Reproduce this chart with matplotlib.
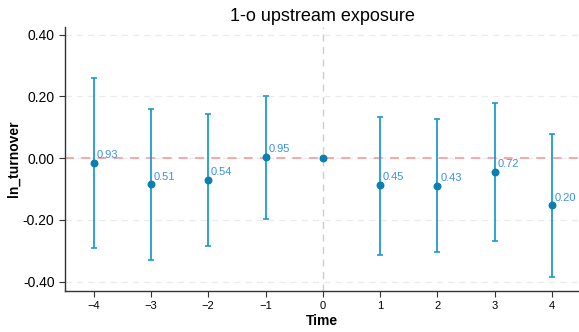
import matplotlib
matplotlib.use("Agg")
import matplotlib.pyplot as plt

plt.rcParams['font.family'] = ['Liberation Sans', 'DejaVu Sans']

# event-study coefficients with 95% CI and p-values
periods = [-4, -3, -2, -1, 0, 1, 2, 3, 4]
coef = [-0.015, -0.085, -0.069, 0.004, 0.0, -0.087, -0.090, -0.044, -0.153]
ci_low = [-0.291, -0.330, -0.283, -0.196, 0.0, -0.312, -0.305, -0.267, -0.384]
ci_high = [0.261, 0.160, 0.144, 0.203, 0.0, 0.135, 0.126, 0.180, 0.080]
pvals = ["0.93", "0.51", "0.54", "0.95", "", "0.45", "0.43", "0.72", "0.20"]
yticks = [-0.4, -0.2, 0.0, 0.2, 0.4]

fig = plt.figure(figsize=(5.79, 3.32), dpi=100)
ax = fig.add_axes([0.1123, 0.1235, 0.8877, 0.7952])

for y in yticks:
    ax.axhline(y, color="#ebebeb", lw=0.9, ls=(0, (5, 4)), zorder=0)
ax.axhline(0, color="#f4a3a3", lw=1.3, ls=(0, (5, 4)), zorder=1)
ax.axvline(0, color="#cccccc", lw=1.0, ls=(0, (5, 4)), zorder=1)

lo_err = [c - l for c, l in zip(coef, ci_low)]
hi_err = [h - c for c, h in zip(coef, ci_high)]
ax.errorbar(periods, coef, yerr=[lo_err, hi_err], fmt="none", ecolor="#1e9ccb",
            elinewidth=1.3, capsize=2.5, capthick=1.2, zorder=2)
ax.scatter(periods, coef, s=22, color="#0a7fb0", zorder=3)

for x, c, p in zip(periods, coef, pvals):
    if p:
        ax.annotate(p, (x, c), xytext=(2, 2), textcoords="offset points",
                    color="#3d8fe8", fontsize=8, ha="left", va="bottom")

ax.set_xlim(-4.5, 4.47)
ax.set_ylim(-0.43, 0.425)
ax.set_xticks(periods)
ax.set_yticks(yticks)
ax.set_yticklabels([f"{v:.2f}" for v in yticks])
ax.tick_params(axis="y", labelsize=10, length=4, color="#333333")
ax.tick_params(axis="x", labelsize=8, length=4, color="#333333")

ax.spines["top"].set_visible(False)
ax.spines["right"].set_visible(False)
for s in ("left", "bottom"):
    ax.spines[s].set_color("#333333")
    ax.spines[s].set_linewidth(1.0)

ax.set_xlabel("Time", fontsize=10, fontweight="bold", labelpad=2)
ax.set_ylabel("ln_turnover", fontsize=10, fontweight="bold", labelpad=1.5)
ax.set_title("1-o upstream exposure", fontsize=13, pad=4)

fig.savefig("out.png", dpi=100)
